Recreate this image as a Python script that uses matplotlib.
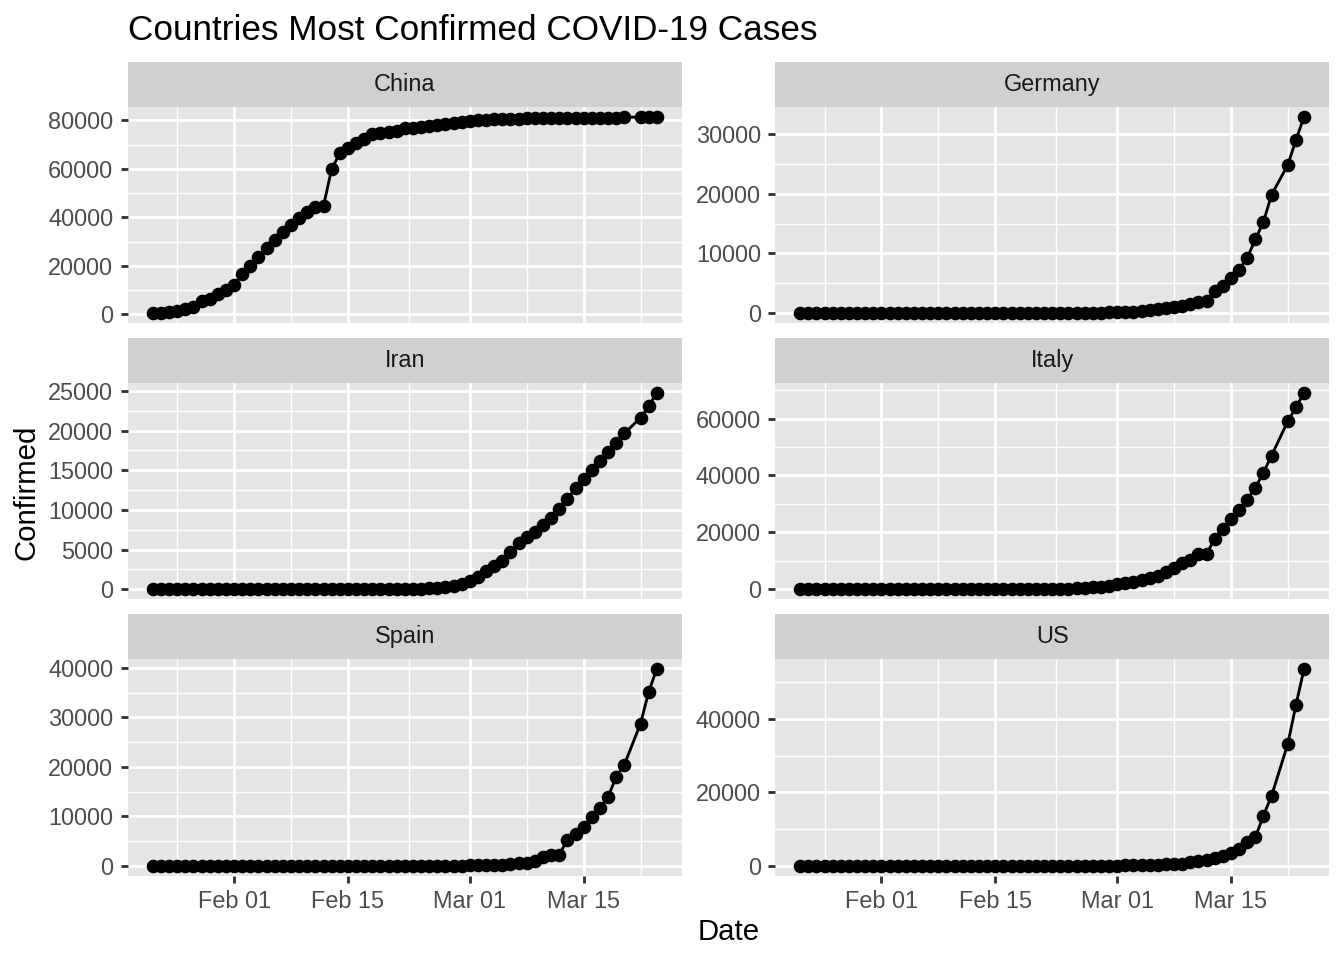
import matplotlib
matplotlib.use("Agg")
import matplotlib.pyplot as plt
import matplotlib.dates as mdates
import numpy as np
import pandas as pd

plt.rcParams['font.family'] = ['Liberation Sans', 'DejaVu Sans']

# ---- data ----
dates = pd.date_range("2020-01-22", "2020-03-24").drop(pd.Timestamp("2020-03-21"))

countries = ["China", "Germany", "Iran", "Italy", "Spain", "US"]

china = [548, 643, 920, 1406, 2075, 2877, 5509, 6087, 8141, 9802,
         11891, 16630, 19716, 23707, 27440, 30587, 34110, 36814, 39829, 42354,
         44386, 44759, 59895, 66358, 68413, 70513, 72434, 74211, 74619, 75077,
         75550, 77001, 77022, 77241, 77754, 78166, 78600, 78928, 79356,
         79932, 80136, 80261, 80386, 80537, 80690, 80770, 80823, 80860, 80887,
         80921, 80932, 80945, 80977, 81003, 81033, 81058, 81102, 81156, 81250,
         81397, 81496, 81591]
germany = [0, 0, 0, 0, 0, 1, 4, 4, 4, 5,
           8, 10, 12, 12, 12, 12, 13, 13, 14, 14,
           16, 16, 16, 16, 16, 16, 16, 16, 16, 16,
           16, 16, 16, 16, 17, 27, 46, 48, 79,
           130, 159, 196, 262, 482, 670, 799, 1040, 1176, 1457,
           1908, 2078, 3675, 4585, 5795, 7272, 9257, 12327, 15320, 19848,
           24873, 29056, 32986]
iran = [0, 0, 0, 0, 0, 0, 0, 0, 0, 0,
        0, 0, 0, 0, 0, 0, 0, 0, 0, 0,
        0, 0, 0, 0, 0, 0, 0, 0, 2, 5,
        18, 28, 43, 61, 95, 139, 245, 388, 593,
        978, 1501, 2336, 2922, 3513, 4747, 5823, 6566, 7161, 8042,
        9000, 10075, 11364, 12729, 13938, 14991, 16169, 17361, 18407, 19644,
        21638, 23049, 24811]
italy = [0, 0, 0, 0, 0, 0, 0, 0, 0, 2,
         2, 2, 2, 2, 2, 2, 3, 3, 3, 3,
         3, 3, 3, 3, 3, 3, 3, 3, 3, 3,
         20, 62, 155, 229, 322, 453, 655, 888, 1128,
         1694, 2036, 2502, 3089, 3858, 4636, 5883, 7375, 9172, 10149,
         12462, 12462, 17660, 21157, 24747, 27980, 31506, 35713, 41035, 47021,
         59138, 63927, 69176]
spain = [0, 0, 0, 0, 0, 0, 0, 0, 0, 0,
         1, 1, 1, 1, 1, 1, 1, 1, 2, 2,
         2, 2, 2, 2, 2, 2, 2, 2, 2, 2,
         2, 2, 2, 2, 6, 13, 15, 32, 45,
         84, 120, 165, 222, 259, 400, 500, 673, 1073, 1695,
         2277, 2277, 5232, 6391, 7798, 9942, 11748, 13910, 17963, 20410,
         28768, 35136, 39885]
us = [1, 1, 2, 2, 5, 5, 5, 5, 5, 7,
      8, 8, 11, 11, 11, 11, 11, 11, 11, 11,
      12, 12, 13, 13, 13, 13, 13, 13, 13, 13,
      15, 15, 15, 51, 51, 57, 58, 60, 68,
      74, 98, 118, 149, 217, 262, 402, 518, 583, 959,
      1281, 1663, 2179, 2727, 3499, 4632, 6421, 7783, 13677, 19100,
      33276, 43847, 53740]

series = [china, germany, iran, italy, spain, us]

y_ticks = [
    [0, 20000, 40000, 60000, 80000],
    [0, 10000, 20000, 30000],
    [0, 5000, 10000, 15000, 20000, 25000],
    [0, 20000, 40000, 60000],
    [0, 10000, 20000, 30000, 40000],
    [0, 20000, 40000],
]
x_ticks = pd.to_datetime(["2020-02-01", "2020-02-15", "2020-03-01", "2020-03-15"])
x_tick_labels = ["Feb 01", "Feb 15", "Mar 01", "Mar 15"]

title = "Countries Most Confirmed COVID-19 Cases"
xlabel = "Date"
ylabel = "Confirmed"

# ---- layout ----
W, H = 1344, 960
fig = plt.figure(figsize=(7, 5), dpi=192)
cols = [(127.6, 682.0), (775.0, 1329.3)]
rows = [(106.7, 322.7), (382.7, 599.0), (658.7, 875.7)]
strip_h = 44.4

PANEL = "#E5E5E5"
STRIP = "#D0D0D0"
LW = 1.07


def minor_breaks(major, lo, hi):
    b = list(major)
    d = b[1] - b[0]
    if lo < b[0]:
        b = [b[0] - d] + b
    if hi > b[-1]:
        b = b + [b[-1] + d]
    mids = [(b[k] + b[k + 1]) / 2 for k in range(len(b) - 1)]
    return [m for m in mids if lo <= m <= hi]


xnum = mdates.date2num(dates.to_pydatetime())
xr = xnum.max() - xnum.min()
xlo, xhi = xnum.min() - 0.05 * xr, xnum.max() + 0.05 * xr
xmaj = list(mdates.date2num(x_ticks.to_pydatetime()))
xmin_ = minor_breaks(xmaj, xlo, xhi)

for i, (name, vals, yt) in enumerate(zip(countries, series, y_ticks)):
    r, c = divmod(i, 2)
    x0, x1 = cols[c]
    y0, y1 = rows[r]
    ax = fig.add_axes([x0 / W, 1 - y1 / H, (x1 - x0) / W, (y1 - y0) / H])
    ax.set_facecolor(PANEL)
    for s in ax.spines.values():
        s.set_visible(False)
    v = np.array(vals, dtype=float)
    yr = v.max() - v.min()
    ylo, yhi = v.min() - 0.05 * yr, v.max() + 0.05 * yr
    ax.set_xlim(xlo, xhi)
    ax.set_ylim(ylo, yhi)

    ax.set_xticks(xmaj)
    ax.set_xticks(xmin_, minor=True)
    ax.set_yticks(yt)
    ax.set_yticks(minor_breaks(yt, ylo, yhi), minor=True)
    ax.set_yticklabels([str(t) for t in yt])
    ax.grid(which='major', color='white', lw=LW)
    ax.grid(which='minor', color='white', lw=LW / 2)
    ax.set_axisbelow(True)
    ax.tick_params(which='minor', length=0)
    ax.tick_params(which='major', length=7.3 * 72 / 192, width=LW, color='#333333',
                   labelsize=8.8, labelcolor='#4D4D4D', pad=2.6)
    if r == 2:
        ax.set_xticklabels(x_tick_labels)
    else:
        ax.tick_params(axis='x', which='major', length=0, labelbottom=False)

    ax.plot(xnum, v, color='black', lw=LW, marker='o', ms=4.1, zorder=3)

    sax = fig.add_axes([x0 / W, 1 - y0 / H, (x1 - x0) / W, strip_h / H])
    sax.set_facecolor(STRIP)
    sax.set_xticks([])
    sax.set_yticks([])
    for s in sax.spines.values():
        s.set_visible(False)
    sax.text(0.5, 0.5, name, ha='center', va='center', transform=sax.transAxes,
             fontsize=8.8, color='#1A1A1A')

fig.text(127.6 / W, 1 - 40 / H, title, ha='left', va='baseline', fontsize=13.2, color='black')
fig.text((127.6 + 1329.3) / 2 / W, 1 - 940 / H, xlabel, ha='center', va='baseline',
         fontsize=11, color='black')
fig.text(26 / W, 1 - 492 / H, ylabel, ha='center', va='center', rotation=90,
         fontsize=11, color='black')

fig.savefig("out.png", dpi=192, facecolor='white')
